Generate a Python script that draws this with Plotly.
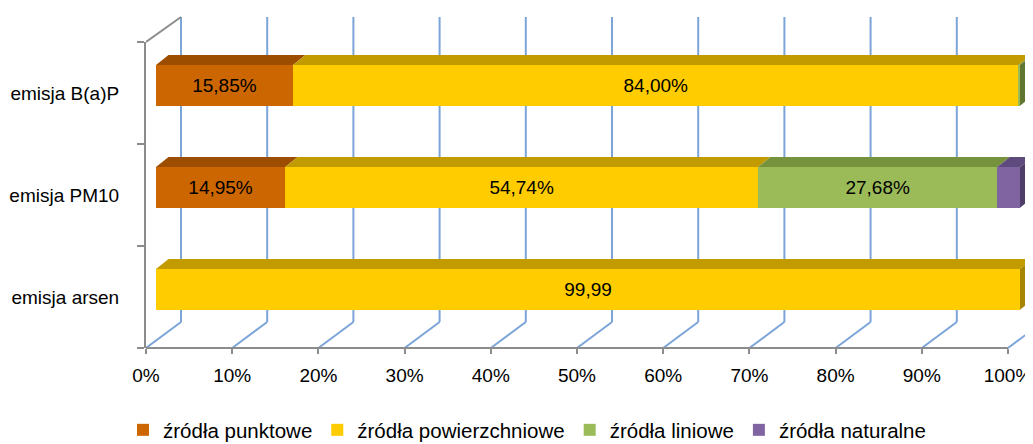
import plotly.graph_objects as go

categories = ["emisja B(a)P", "emisja PM10", "emisja arsen"]
series = ["źródła punktowe", "źródła powierzchniowe", "źródła liniowe", "źródła naturalne"]
punktowe = [15.85, 14.95, 0.01]
powierzchniowe = [84.00, 54.74, 99.99]
liniowe = [0.15, 27.68, 0.0]
naturalne = [0.0, 2.63, 0.0]
punktowe_lbl = ["15,85%", "14,95%", ""]
powierzchniowe_lbl = ["84,00%", "54,74%", "99,99"]
liniowe_lbl = ["", "27,68%", ""]
naturalne_lbl = ["", "", ""]
ticks = [0, 10, 20, 30, 40, 50, 60, 70, 80, 90, 100]
tick_text = ["0%", "10%", "20%", "30%", "40%", "50%", "60%", "70%", "80%", "90%", "100%"]

values = [punktowe, powierzchniowe, liniowe, naturalne]
labels = [punktowe_lbl, powierzchniowe_lbl, liniowe_lbl, naturalne_lbl]
front = ["#CC6600", "#FFCC00", "#9BBB59", "#8064A2"]
top = ["#9C4D00", "#C29B00", "#77923D", "#5E4A7C"]
side = ["#7F3F00", "#A88500", "#5F7530", "#4F3E68"]

FONT = "Liberation Sans, Arial, sans-serif"
# page body has an 8px margin, so the figure is a bit smaller than the window
M = 8
W, H = 1033 - M, 444 - M
ypos = list(range(len(categories)))
off, bw = -0.275, 0.4          # bar front face position within category
ddx, ddy = 1.45, 0.098         # bar depth (x in %, y in category units)
gdx = 4.06                     # wall depth in % for gridlines
px = lambda p: (p - M) / W     # window pixel -> paper
py = lambda p: 1 - (p - M) / H

fig = go.Figure()
for name, vals, lbl, col in zip(series, values, labels, front):
    fig.add_trace(go.Bar(
        name=name, y=ypos, x=vals, orientation="h",
        width=bw, offset=off, marker=dict(color=col, line=dict(width=0)),
        text=lbl, textposition="inside", insidetextanchor="middle",
        textangle=0, constraintext="none",
        textfont=dict(family=FONT, size=19, color="black"),
        hoverinfo="skip",
    ))

shapes = []
# back wall / floor gridlines
for v in ticks:
    shapes.append(dict(type="line", xref="x2", yref="paper", layer="below",
                       x0=v + gdx, x1=v + gdx, y0=py(322), y1=py(17),
                       line=dict(color="#7BA4D8", width=2)))
    shapes.append(dict(type="line", xref="x2", yref="paper", layer="below",
                       x0=v + gdx, x1=v, y0=py(322), y1=py(348),
                       line=dict(color="#7BA4D8", width=2)))
shapes.append(dict(type="line", xref="x2", yref="paper", x0=0, x1=gdx,
                   y0=py(42), y1=py(17), line=dict(color="#8C8C8C", width=2)))
shapes.append(dict(type="line", xref="x2", yref="paper", x0=0, x1=100,
                   y0=py(348), y1=py(348), line=dict(color="#8C8C8C", width=2)))

# 3D faces of bars
for i, c in enumerate(ypos):
    yt = c + off
    yb = yt + bw
    start = 0.0
    last = None
    for s in range(len(series)):
        v = values[s][i]
        if v <= 0:
            continue
        end = start + v
        shapes.append(dict(type="path", xref="x", yref="y", layer="above",
                           path=f"M{start},{yt} L{end},{yt} L{end + ddx},{yt - ddy} L{start + ddx},{yt - ddy} Z",
                           fillcolor=top[s], line=dict(width=0)))
        last = (s, end)
        start = end
    s, end = last
    shapes.append(dict(type="path", xref="x", yref="y", layer="above",
                       path=f"M{end},{yt} L{end + ddx},{yt - ddy} L{end + ddx},{yb - ddy} L{end},{yb} Z",
                       fillcolor=side[s], line=dict(width=0)))

x0p, x0b, x100b, x100p, xr = 146, 156, 1020, 1008, 1033
fig.update_layout(
    width=W, height=H, barmode="stack",
    margin=dict(l=0, r=0, t=0, b=0, autoexpand=False),
    paper_bgcolor="white", plot_bgcolor="white",
    font=dict(family=FONT, size=19, color="black"),
    shapes=shapes,
    xaxis=dict(domain=[px(x0p), 1], visible=False, automargin=False,
               range=[-(x0b - x0p) / ((x100b - x0b) / 100), (xr - x0b) / ((x100b - x0b) / 100)]),
    xaxis2=dict(overlaying="x", anchor="y", side="bottom", automargin=False,
                range=[0, (xr - x0p) / ((x100p - x0p) / 100)],
                tickvals=ticks, ticktext=tick_text, showgrid=False, zeroline=False,
                showline=False, ticks="outside", ticklen=5, tickwidth=2,
                tickcolor="#8C8C8C", ticklabelstandoff=5,
                tickfont=dict(family=FONT, size=19)),
    yaxis=dict(domain=[py(348), py(42)], range=[2.5, -0.5], automargin=False,
               tickvals=ypos, ticktext=categories, ticks="",
               showgrid=False, zeroline=False, showline=True,
               linecolor="#8C8C8C", linewidth=2, ticklabelstandoff=21,
               tickfont=dict(family=FONT, size=19),
               minor=dict(tickvals=[-0.5, 0.5, 1.5, 2.5], ticks="outside",
                          ticklen=7, tickwidth=2, tickcolor="#8C8C8C", showgrid=False)),
    legend=dict(orientation="h", x=px(123), xanchor="left", y=py(410), yanchor="top",
                font=dict(family=FONT, size=20.5), traceorder="normal"),
    showlegend=True,
)
# dummy trace so xaxis2 renders
fig.add_trace(go.Scatter(x=[None], y=[None], xaxis="x2", showlegend=False, hoverinfo="skip"))
fig.write_html("out.html")
